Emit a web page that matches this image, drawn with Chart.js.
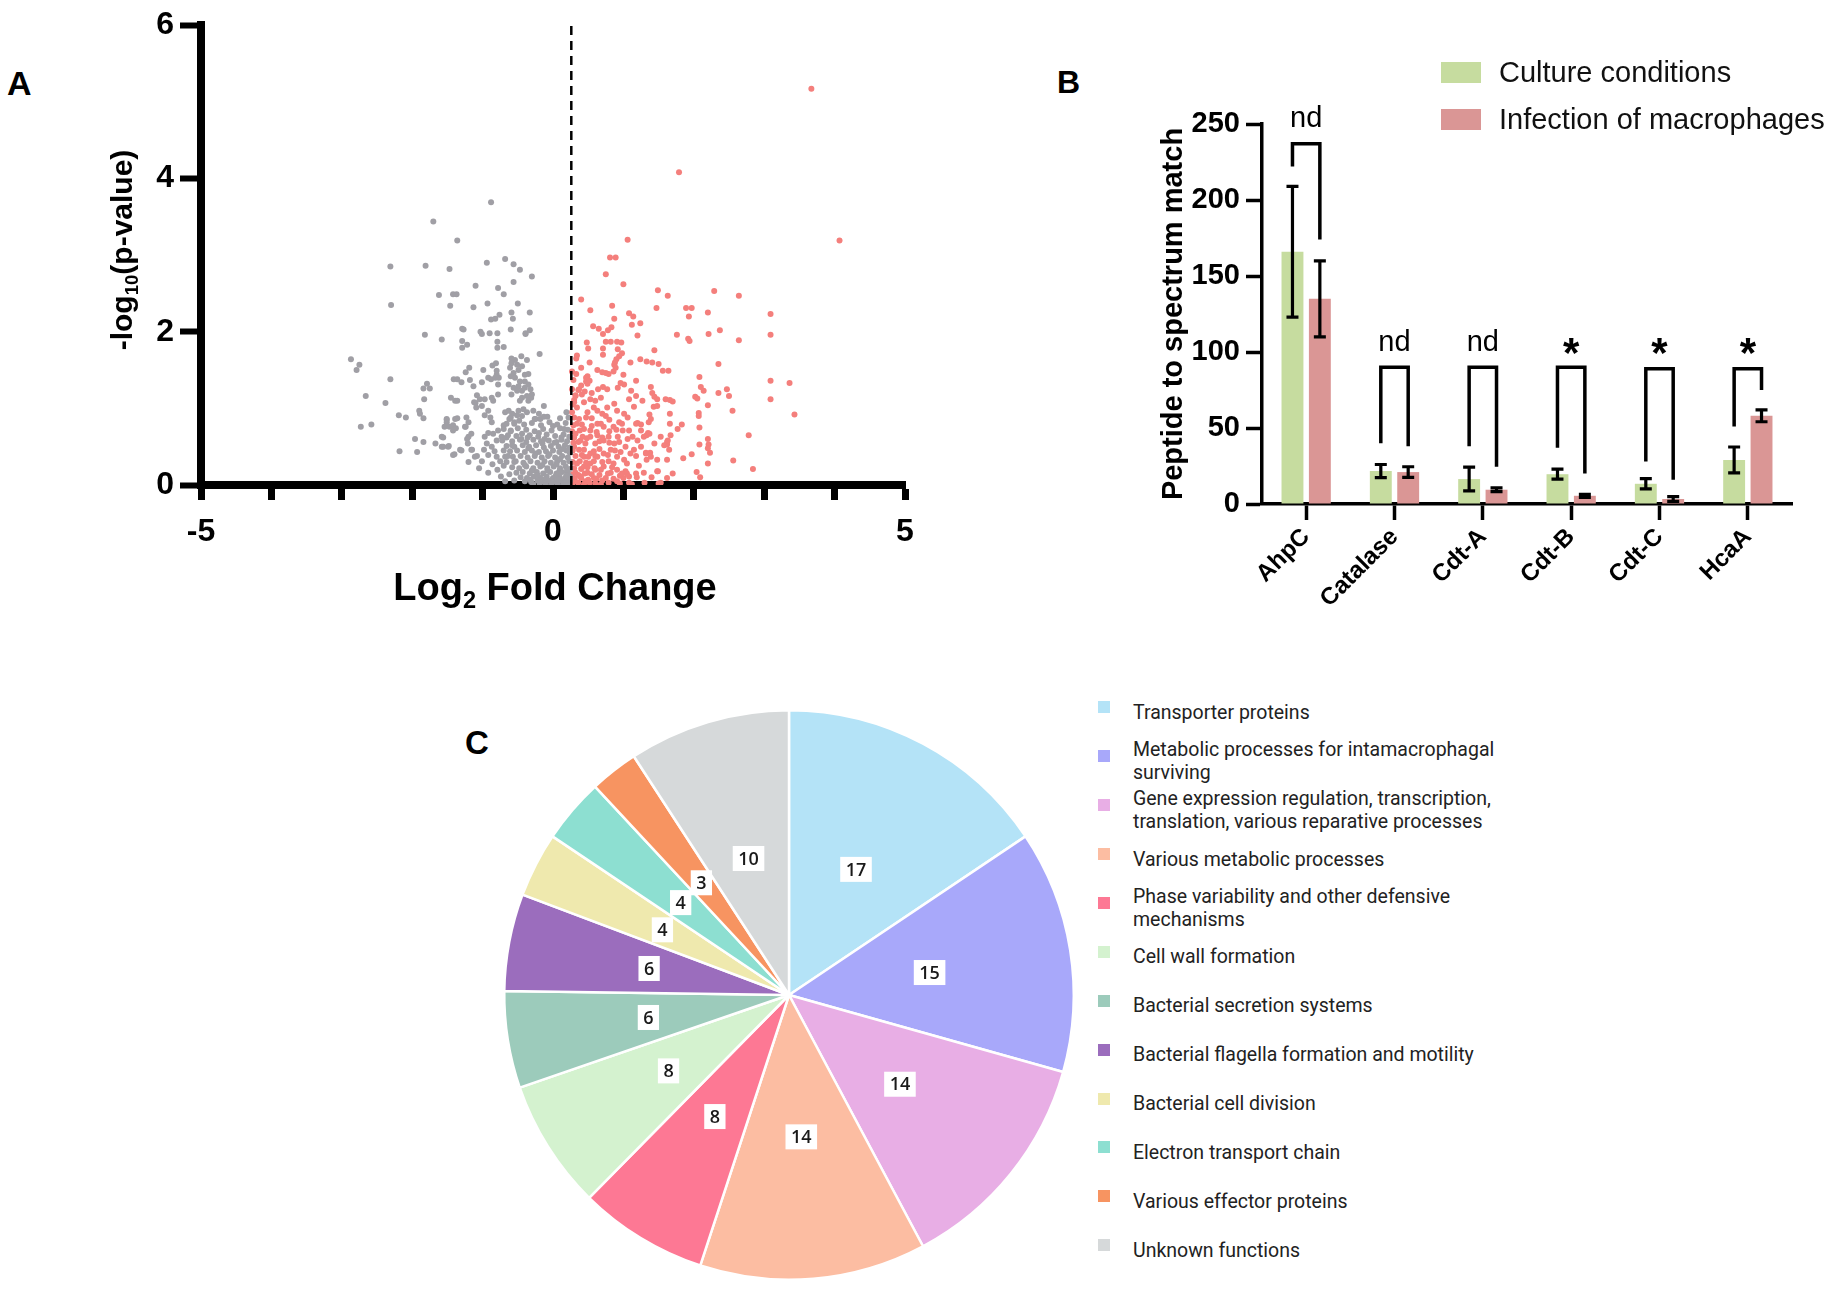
<!DOCTYPE html>
<html lang="en">
<head>
<meta charset="UTF-8">
<title>Proteome of macrophage infection</title>
<script src="https://cdn.jsdelivr.net/npm/chart.js@4.4.1/dist/chart.umd.min.js"></script>
<style>
  body { margin: 0; background: #fff; width: 1831px; height: 1289px; position: relative; overflow: hidden;
         font-family: "Liberation Sans", Arial, sans-serif; }
  canvas { position: absolute; }
  .letter { position: absolute; font-weight: bold; line-height: 1; color: #000; }
  .legB { position: absolute; font-size: 29px; line-height: 29px; color: #111; white-space: nowrap; }
  .legB-box { position: absolute; width: 40px; height: 21px; }
  #pieLegend { position: absolute; left: 1098px; top: 688px; width: 620px; }
  #pieLegend .row { height: 48.9px; display: flex; align-items: center; }
  #pieLegend .sw { width: 12px; height: 12px; margin-right: 23px; flex: none; position: relative; top: -5px; }
  #pieLegend .txt { font-family: Roboto, sans-serif; font-size: 19.5px; line-height: 23px; color: #222; }
</style>
</head>
<body>
  <div class="letter" style="left:7px;top:66px;font-size:34px;">A</div>
  <div class="letter" style="left:1057px;top:66px;font-size:32px;">B</div>
  <div class="letter" style="left:465px;top:726px;font-size:33px;">C</div>

  <canvas id="volcano" width="960" height="640" style="left:0;top:0;"></canvas>
  <canvas id="psmChart" width="711" height="640" style="left:1120px;top:0;"></canvas>
  <canvas id="pieChart" width="600" height="600" style="left:489px;top:695px;"></canvas>

  <div class="legB-box" style="left:1441px;top:62px;background:#c6dc9f;"></div>
  <div class="legB" style="left:1499px;top:58px;">Culture conditions</div>
  <div class="legB-box" style="left:1441px;top:109px;background:#da9695;"></div>
  <div class="legB" style="left:1499px;top:105px;">Infection of macrophages</div>

  <div id="pieLegend"></div>

<script>
// ---------- A: volcano plot (log2 fold change, -log10 p) ----------
const foldCutoff = 0.26;

const otherProteins = [
  [-0.88,3.69],[-1.70,3.44],[-1.36,3.19],[-2.31,2.85],[-1.81,2.86],[-1.47,2.82],[-0.94,2.90],[-0.68,2.95],
  [-0.56,2.88],[-0.47,2.81],[-0.30,2.72],[-0.56,2.65],[-1.10,2.60],[-0.78,2.57],[-0.70,2.49],[-1.62,2.48],
  [-1.42,2.49],[-1.37,2.49],[-2.30,2.35],[-1.46,2.34],[-1.13,2.32],[-0.93,2.37],[-0.50,2.37],[-0.59,2.25],
  [-0.33,2.25],[-0.76,2.22],[-0.82,2.17],[-0.88,2.16],[-0.57,2.17],[-1.82,1.96],[-1.58,1.90],[-1.29,2.04],
  [-1.27,2.03],[-1.29,1.88],[-1.22,1.83],[-1.29,1.79],[-1.03,2.00],[-1.01,1.97],[-0.90,1.98],[-0.79,1.98],
  [-0.79,1.87],[-0.79,1.79],[-0.70,1.80],[-0.60,2.03],[-0.39,1.98],[-0.33,2.02],[-0.19,1.71],[-2.87,1.64],
  [-2.75,1.57],[-2.79,1.50],[-2.31,1.38],[-2.66,1.16],[-2.38,1.07],[-2.73,0.76],[-2.58,0.79],[-2.19,0.91],
  [-2.09,0.88],[-2.18,0.44],[-1.93,0.43],[-1.96,0.60],[-1.84,0.56],[-1.90,0.97],[-1.89,0.93],[-1.84,0.87],
  [-1.83,1.12],[-1.84,1.26],[-1.79,1.32],[-1.75,1.26],[-1.67,0.54],[-1.56,0.50],[-1.48,0.51],[-1.56,0.62],
  [-1.51,0.85],[-1.51,0.78],[-1.45,1.14],[-1.41,1.38],[-1.36,1.38],[-1.30,1.34],[-1.36,1.10],[-1.42,0.78],
  [-1.38,0.74],[-1.36,0.87],[-1.40,0.40],[-1.30,0.45],[-1.24,1.47],[-1.19,1.53],[-1.18,1.37],[-1.13,1.29],
  [-1.24,0.76],[-1.22,0.60],[-1.20,0.30],[-1.15,0.46],[-1.08,0.38],[-1.10,1.07],[-1.08,1.17],[-1.01,1.34],
  [-0.99,1.50],[-0.88,1.38],[-0.86,1.56],[-0.81,1.59],[-0.80,1.49],[-0.77,1.40],[-0.39,1.97],
  [-0.45,1.68],[-0.37,1.63],[-0.54,1.63],[-0.59,1.65],[-0.59,1.59],[-0.51,1.57],[-0.44,1.55],[-0.49,1.50],
  [-0.61,1.53],[-0.56,1.46],[-0.40,1.44],[-0.35,1.45],[-0.60,1.42],[-0.54,1.40],[-0.47,1.35],[-0.40,1.35],
  [-0.35,1.31],[-0.80,1.44],[-0.82,1.40],[-0.78,1.31],[-0.92,1.40],[-0.63,1.31],[-0.56,1.27],[-0.49,1.29],
  [-0.51,1.23],[-0.44,1.23],[-0.40,1.27],[-0.32,1.25],[-0.30,1.18],[-0.37,1.16],[-0.44,1.14],[-0.59,1.18],
  [-0.47,1.10],[-0.35,1.10],[-0.31,1.14],[-1.39,1.10],[-1.12,1.08],[-1.04,1.12],[-0.97,1.12],[-0.87,1.14],
  [-0.85,1.10],[-0.78,1.18],[-1.01,1.03],[-1.09,1.01],[-0.92,0.97],[-0.97,0.91],[-0.89,0.88],[-0.87,0.82],
  [-0.68,0.95],[-0.63,0.97],[-0.58,0.93],[-0.51,0.91],[-0.49,0.97],[-0.42,0.99],[-0.37,0.95],[-0.28,0.97],
  [-0.20,0.93],[-0.13,1.03],[-0.18,0.86],[-0.13,0.89],[-0.25,0.86],[-1.51,0.86],[-1.51,0.82],[-1.54,0.76],
  [-1.39,0.86],[-1.23,0.88],[-1.20,0.82],[-1.25,0.76],[-1.47,0.76],[-1.42,0.71],[-1.58,0.63],[-1.58,0.50],
  [-1.49,0.50],[-1.42,0.39],[-1.32,0.46],[-1.20,0.63],[-1.16,0.67],[-1.21,0.54],[-1.16,0.46],[-1.11,0.37],
  [-1.01,0.31],[-0.92,0.39],[-0.97,0.63],[-0.94,0.54],[-0.87,0.50],[-0.85,0.67],[-0.78,0.71],[-0.73,0.63],
  [-0.80,0.37],[-0.75,0.31],[-0.68,0.37],[-0.79,0.20],[-0.74,0.11],[-0.92,0.16],
  [-0.62,0.86],[-0.55,0.80],[-0.48,0.84],[-0.70,0.78],[-0.60,0.70],[-0.66,0.62],[-0.58,0.52],[-0.70,0.45],
  [-0.64,0.38],[-0.55,0.30],[-0.70,0.25],[-0.62,0.14],[-0.55,0.06],[-0.83,0.44],[-0.86,0.27],[-0.80,0.58],
  [-0.92,0.68],[-0.98,0.46],[-1.05,0.22],[-0.68,0.05],
  [-0.60,0.88],[-0.44,0.90],[-0.26,0.86],[-0.08,0.89],[0.10,0.87],[0.19,0.95],
  [-0.66,0.80],[-0.55,0.82],[-0.41,0.79],[-0.30,0.81],[-0.17,0.78],[-0.05,0.82],[0.06,0.79],[0.18,0.81],
  [-0.70,0.73],[-0.60,0.71],[-0.50,0.74],[-0.38,0.72],[-0.26,0.70],[-0.14,0.73],[-0.02,0.71],[0.10,0.74],[0.21,0.72],
  [-0.64,0.65],[-0.52,0.64],[-0.44,0.67],[-0.33,0.65],[-0.21,0.63],[-0.09,0.66],[0.03,0.64],[0.15,0.66],[0.23,0.63],
  [-0.72,0.58],[-0.58,0.57],[-0.47,0.59],[-0.38,0.56],[-0.28,0.59],[-0.17,0.57],[-0.06,0.58],[0.05,0.56],[0.12,0.59],[0.20,0.57],
  [-0.66,0.51],[-0.55,0.50],[-0.43,0.52],[-0.34,0.50],[-0.24,0.52],[-0.13,0.49],[-0.03,0.51],[0.08,0.50],[0.17,0.52],[0.24,0.49],
  [-0.61,0.44],[-0.51,0.45],[-0.40,0.43],[-0.30,0.45],[-0.20,0.43],[-0.10,0.44],[0.00,0.45],[0.09,0.43],[0.19,0.45],[0.24,0.42],
  [-0.57,0.37],[-0.46,0.38],[-0.36,0.36],[-0.26,0.38],[-0.16,0.36],[-0.07,0.38],[0.03,0.36],[0.13,0.38],[0.21,0.36],
  [-0.66,0.30],[-0.53,0.31],[-0.42,0.29],[-0.32,0.31],[-0.22,0.29],[-0.12,0.31],[-0.03,0.29],[0.06,0.31],[0.15,0.29],[0.23,0.31],
  [-0.58,0.23],[-0.48,0.22],[-0.38,0.24],[-0.28,0.22],[-0.18,0.24],[-0.08,0.22],[0.01,0.24],[0.10,0.22],[0.18,0.24],[0.24,0.21],
  [-0.52,0.16],[-0.43,0.17],[-0.33,0.15],[-0.23,0.17],[-0.14,0.15],[-0.04,0.17],[0.05,0.15],[0.13,0.17],[0.21,0.15],
  [-0.46,0.10],[-0.37,0.09],[-0.27,0.11],[-0.18,0.09],[-0.09,0.11],[0.00,0.09],[0.09,0.11],[0.17,0.09],[0.24,0.11],
  [-0.40,0.05],[-0.31,0.04],[-0.22,0.06],[-0.13,0.04],[-0.05,0.06],[0.04,0.04],[0.12,0.06],[0.20,0.04],
  [-0.28,0.01],[-0.19,0.02],[-0.10,0.01],[-0.02,0.02],[0.07,0.01],[0.15,0.02],[0.22,0.01],
  [-0.35,0.48],[-0.15,0.54],[0.02,0.55],[0.14,0.47],[-0.25,0.41],[-0.05,0.40],[0.10,0.34],[-0.40,0.26],
  [-0.15,0.26],[0.05,0.27],[0.20,0.20],[-0.30,0.19],[-0.08,0.19],[0.09,0.18],[-0.22,0.13],[0.04,0.12],
  [0.19,0.12],[-0.32,0.07],[-0.12,0.07],[0.08,0.07],[0.24,0.06],[-0.45,0.60],[-0.20,0.68],[0.00,0.77],
  [0.16,0.73],[0.22,0.88],[-0.36,0.62],[-0.12,0.60],[0.12,0.62]
];

const upProteins = [
  [3.67,5.17],[1.79,4.08],[4.07,3.19],[1.06,3.20],[0.81,2.97],[0.89,2.97],[0.75,2.75],[1.00,2.62],
  [1.49,2.54],[1.63,2.47],[2.29,2.53],[2.64,2.47],[0.40,2.42],[0.53,2.28],[0.84,2.34],[1.47,2.31],
  [1.89,2.31],[1.97,2.31],[1.93,2.20],[2.20,2.25],[3.09,2.23],[1.08,2.24],[1.14,2.20],[0.87,2.17],
  [1.24,2.11],[1.12,2.09],[0.57,2.07],[0.65,2.04],[0.71,1.97],[0.78,2.02],[0.83,2.06],[1.20,1.95],
  [1.76,1.96],[2.21,1.97],[2.37,2.02],[3.09,1.96],[1.92,1.91],[1.94,1.88],[2.64,1.89],[0.48,1.86],
  [0.75,1.87],[0.82,1.87],[0.91,1.87],[0.97,1.86],[0.50,1.78],[0.71,1.78],[0.92,1.77],[1.44,1.76],
  [0.98,1.72],[0.94,1.68],[0.90,1.64],[0.88,1.60],[0.34,1.69],[1.24,1.64],[1.33,1.61],[1.41,1.60],
  [1.50,1.58],[1.56,1.49],[1.64,1.49],[0.52,1.60],[0.40,1.53],[2.35,1.58],[0.71,1.70],[2.08,1.41],
  [3.09,1.36],[3.36,1.33],[1.18,1.36],[0.47,1.40],[0.47,1.35],[2.10,1.28],[2.14,1.23],[0.36,1.24],
  [1.39,1.28],[1.41,1.20],[2.35,1.20],[2.47,1.25],[2.50,1.16],[2.02,1.15],[2.05,1.13],[3.09,1.12],
  [0.32,1.17],[0.30,1.11],[1.27,1.10],[1.48,1.12],[1.60,1.12],[1.66,1.11],[1.70,1.09],[2.20,1.04],
  [1.43,1.02],[2.55,0.97],[3.43,0.92],[1.37,0.92],[1.66,0.93],[2.07,0.94],[2.07,0.90],[1.20,0.81],
  [1.25,0.79],[1.39,0.86],[1.36,0.82],[1.66,0.80],[1.77,0.73],[1.83,0.79],[2.08,0.75],[2.78,0.65],
  [1.35,0.68],[1.33,0.65],[1.67,0.65],[1.62,0.56],[1.62,0.53],[2.20,0.60],[2.21,0.53],[2.08,0.53],
  [2.20,0.48],[2.23,0.42],[2.20,0.28],[1.97,0.40],[2.56,0.32],[2.84,0.21],[1.62,0.33],[1.32,0.42],
  [1.33,0.33],[1.38,0.42],[2.04,0.17],[2.09,0.10],[1.49,0.18],[1.50,0.02],[1.62,0.09],[1.18,0.15],
  [1.19,0.10],[1.05,0.15],[1.08,0.03],
  [0.33,1.65],[1.10,1.60],[0.87,1.57],[0.89,1.53],[0.86,1.48],[0.63,1.50],[0.70,1.47],[0.75,1.46],
  [0.79,1.45],[0.49,1.42],[0.52,1.36],[0.49,1.32],[1.00,1.44],[0.96,1.33],[1.01,1.31],[0.92,1.27],
  [0.71,1.28],[0.77,1.25],[0.64,1.25],[0.37,1.25],[0.41,1.18],[1.44,1.15],[1.48,1.03],[1.11,1.23],
  [1.18,1.16],[1.08,1.12],[1.15,1.02],
  [0.32,1.16],[0.30,1.08],[0.34,1.01],[0.44,1.08],[0.53,1.12],[0.60,1.10],[0.68,1.14],[0.58,1.01],
  [0.49,0.95],[0.63,0.97],[0.70,0.93],[0.77,1.01],[0.87,1.06],[0.91,0.97],[1.01,0.93],[1.06,0.88],
  [0.94,0.82],[0.86,0.76],[0.72,0.76],[0.63,0.80],[0.53,0.71],[0.44,0.73],[0.34,0.80],[0.30,0.88],
  [0.32,0.67],[0.39,0.58],[0.46,0.54],[0.53,0.63],[0.63,0.65],[0.72,0.58],[0.79,0.63],[0.87,0.54],
  [0.99,0.71],[1.08,0.71],[1.18,0.80],[1.25,0.71],[1.13,0.63],[1.20,0.58],[1.29,0.63],[1.37,0.67],
  [1.44,0.54],[1.53,0.63],[1.25,0.50],[1.15,0.46],[1.03,0.50],[0.96,0.43],[0.82,0.46],[0.72,0.41],
  [0.63,0.37],[0.53,0.41],[0.44,0.37],[0.37,0.46],[0.30,0.50],[0.34,0.28],[0.44,0.24],[0.53,0.28],
  [0.60,0.20],[0.72,0.24],[0.79,0.31],[0.91,0.37],[1.01,0.33],[1.10,0.41],[1.32,0.41],[1.39,0.37],
  [1.48,0.33],[1.58,0.52],[1.63,0.58],[1.65,0.46],[0.49,0.16],[0.39,0.11],[0.32,0.16],[0.58,0.09],
  [0.75,0.09],[0.82,0.16],[0.91,0.20],[1.03,0.18],[1.08,0.11],[1.29,0.16],[1.48,0.18],[1.53,0.03],
  [0.91,0.05],[0.30,0.05],[0.46,0.05],
  [0.28,0.02],[0.36,0.03],[0.44,0.01],[0.52,0.03],[0.60,0.02],[0.68,0.01],[0.79,0.03],[0.95,0.02],
  [1.12,0.01],[1.30,0.03],[0.31,0.08],[0.40,0.09],[0.50,0.07],[0.62,0.08],[0.70,0.06],[0.86,0.08],
  [1.00,0.09],[0.28,0.14],[0.36,0.13],[0.45,0.15],[0.55,0.14],[0.66,0.13],[0.78,0.15],[0.95,0.12],
  [0.30,0.22],[0.40,0.21],[0.49,0.23],[0.59,0.22],[0.68,0.20],[0.84,0.23],[0.28,0.30],[0.38,0.31],
  [0.47,0.29],[0.58,0.31],[0.70,0.30],[0.86,0.28],[0.32,0.38],[0.41,0.39],[0.50,0.37],[0.60,0.38],
  [0.78,0.39],[0.28,0.45],[0.44,0.46],[0.58,0.44],[0.66,0.47],[0.88,0.45],[0.29,0.55],[0.36,0.56],
  [0.60,0.54],[0.66,0.57],[0.80,0.55],[0.94,0.56],[0.30,0.62],[0.42,0.63],[0.48,0.61],[0.70,0.62],
  [0.92,0.63],[0.27,0.70],[0.38,0.71],[0.62,0.69],[0.80,0.70],[0.90,0.72],[0.29,0.78],[0.41,0.79],
  [0.55,0.77],[0.68,0.80],[0.37,0.86],[0.55,0.87],[0.80,0.85],
  [0.27,0.95],[0.28,1.05],[0.27,1.25],[0.29,1.37],[0.27,1.48],[0.33,1.45],[0.40,1.30],[0.45,1.22],
  [0.55,1.20],[0.47,0.88],[0.75,0.90],[0.98,0.80],[1.06,0.60],[1.18,0.38],[1.05,0.28],[0.98,0.15],
  [1.22,0.25],[1.40,0.10],[1.70,0.15],[1.85,0.35]
];

// ---------- B: peptide to spectrum match ----------
const proteins = ['AhpC', 'Catalase', 'Cdt-A', 'Cdt-B', 'Cdt-C', 'HcaA'];
const cultureMean = [166, 21.7, 16.4, 19.6, 13.3, 29];
const cultureSd = [43, 4.3, 7.8, 3.3, 3.4, 8.5];
const infectionMean = [135, 21, 9.4, 5.4, 3.3, 58];
const infectionSd = [25, 3.5, 1.2, 1.0, 1.6, 3.9];
const bracketTop = [237, 90, 90, 90, 89, 89];
const bracketLeftEnd = [222, 40, 38, 37, 28, 51];
const bracketRightEnd = [174, 38, 24.5, 20, 16, 75];
const sigText = ['nd', 'nd', 'nd', '*', '*', '*'];
const sigLevel = [253, 106, 106, 103, 103, 103];

// ---------- C: functional groups ----------
const functionGroups = [
  ['Transporter proteins'],
  ['Metabolic processes for intamacrophagal', 'surviving'],
  ['Gene expression regulation, transcription,', 'translation, various reparative processes'],
  ['Various metabolic processes'],
  ['Phase variability and other defensive', 'mechanisms'],
  ['Cell wall formation'],
  ['Bacterial secretion systems'],
  ['Bacterial flagella formation and motility'],
  ['Bacterial cell division'],
  ['Electron transport chain'],
  ['Various effector proteins'],
  ['Unknown functions']
];
const groupCounts = [17, 15, 14, 14, 8, 8, 6, 6, 4, 4, 3, 10];
const groupColors = ['#b4e3f7', '#a8a8fa', '#e8aee5', '#fcbda2', '#fd7894', '#d4f2cf',
                     '#9ccbbb', '#9b6dbd', '#efe9ae', '#8ddfd1', '#f79461', '#d6d9da'];

Chart.defaults.font.family = '"Liberation Sans", Arial, sans-serif';
Chart.defaults.color = '#000';

function drawSubText(ctx, parts, x, y, size) {
  let total = 0;
  parts.forEach(([t, sub]) => {
    ctx.font = 'bold ' + (sub ? size * 0.62 : size) + 'px "Liberation Sans", Arial';
    total += ctx.measureText(t).width;
  });
  let cx = x - total / 2;
  parts.forEach(([t, sub]) => {
    ctx.font = 'bold ' + (sub ? size * 0.62 : size) + 'px "Liberation Sans", Arial';
    ctx.fillText(t, cx, y + (sub ? size * 0.3 : 0));
    cx += ctx.measureText(t).width;
  });
}

const volcanoDecor = {
  id: 'volcanoDecor',
  afterDatasetsDraw(chart) {
    const { ctx, scales: { x, y } } = chart;
    const px = x.getPixelForValue(foldCutoff);
    ctx.save();
    ctx.strokeStyle = '#000';
    ctx.lineWidth = 2.5;
    ctx.setLineDash([9, 6]);
    ctx.beginPath();
    ctx.moveTo(px, y.getPixelForValue(0));
    ctx.lineTo(px, y.getPixelForValue(6));
    ctx.stroke();
    ctx.restore();
  },
  afterDraw(chart) {
    const ctx = chart.ctx;
    ctx.save();
    ctx.fillStyle = '#000';
    ctx.textAlign = 'left';
    ctx.textBaseline = 'middle';
    drawSubText(ctx, [['Log', false], ['2', true], [' Fold Change', false]], 555, 590, 38);
    ctx.translate(124, 250);
    ctx.rotate(-Math.PI / 2);
    drawSubText(ctx, [['-log', false], ['10', true], ['(p-value)', false]], 0, 0, 30);
    ctx.restore();
  }
};

new Chart(document.getElementById('volcano'), {
  type: 'scatter',
  data: {
    datasets: [
      { data: otherProteins.map(p => ({ x: p[0], y: p[1] })), backgroundColor: '#a09fa5', pointRadius: 3, pointBorderWidth: 0 },
      { data: upProteins.map(p => ({ x: p[0], y: p[1] })), backgroundColor: '#f47f7c', pointRadius: 3, pointBorderWidth: 0 }
    ]
  },
  options: {
    responsive: false,
    animation: false,
    events: [],
    layout: { padding: { top: 19, right: 55, left: 0, bottom: 0 } },
    plugins: { legend: { display: false }, tooltip: { enabled: false } },
    scales: {
      x: {
        type: 'linear', min: -5, max: 5,
        afterFit: s => { s.height = 155; },
        border: { display: true, width: 8, color: '#000' },
        grid: { drawOnChartArea: false, drawTicks: true, tickLength: 15, tickWidth: 7, tickColor: '#000' },
        ticks: { stepSize: 1, autoSkip: false, maxRotation: 0, padding: 13, color: '#000',
                 font: { size: 32, weight: 'bold' },
                 callback: v => (v % 5 === 0 ? v : '') }
      },
      y: {
        min: 0, max: 6,
        afterFit: s => { s.width = 201; },
        border: { display: true, width: 8, color: '#000' },
        grid: { drawOnChartArea: false, drawTicks: true, tickLength: 21, tickWidth: 6, tickColor: '#000' },
        ticks: { stepSize: 2, padding: 6, color: '#000', font: { size: 32, weight: 'bold' } }
      }
    }
  },
  plugins: [volcanoDecor]
});

// error bars, brackets and significance marks for panel B
const psmDecor = {
  id: 'psmDecor',
  afterDatasetsDraw(chart) {
    const { ctx, scales: { y } } = chart;
    const green = chart.getDatasetMeta(0).data;
    const red = chart.getDatasetMeta(1).data;
    ctx.save();
    ctx.strokeStyle = '#000';
    ctx.lineWidth = 3.2;
    [[green, cultureMean, cultureSd], [red, infectionMean, infectionSd]].forEach(([bars, mean, sd]) => {
      bars.forEach((bar, i) => {
        const hi = y.getPixelForValue(mean[i] + sd[i]);
        const lo = y.getPixelForValue(Math.max(mean[i] - sd[i], 0));
        ctx.beginPath();
        ctx.moveTo(bar.x, hi); ctx.lineTo(bar.x, lo);
        ctx.moveTo(bar.x - 6, hi); ctx.lineTo(bar.x + 6, hi);
        ctx.moveTo(bar.x - 6, lo); ctx.lineTo(bar.x + 6, lo);
        ctx.stroke();
      });
    });
    ctx.lineWidth = 3.5;
    proteins.forEach((p, i) => {
      const top = y.getPixelForValue(bracketTop[i]);
      ctx.beginPath();
      ctx.moveTo(green[i].x, y.getPixelForValue(bracketLeftEnd[i]));
      ctx.lineTo(green[i].x, top);
      ctx.lineTo(red[i].x, top);
      ctx.lineTo(red[i].x, y.getPixelForValue(bracketRightEnd[i]));
      ctx.stroke();
      const mid = (green[i].x + red[i].x) / 2;
      ctx.fillStyle = '#000';
      ctx.textAlign = 'center';
      ctx.textBaseline = 'middle';
      if (sigText[i] === '*') {
        ctx.font = 'bold 42px "Liberation Sans", Arial';
        ctx.fillText('*', mid, y.getPixelForValue(sigLevel[i]) + 8);
      } else {
        ctx.font = '29px "Liberation Sans", Arial';
        ctx.fillText('nd', mid, y.getPixelForValue(sigLevel[i]));
      }
    });
    ctx.restore();
  }
};

new Chart(document.getElementById('psmChart'), {
  type: 'bar',
  data: {
    labels: proteins,
    datasets: [
      { label: 'Culture conditions', data: cultureMean, backgroundColor: '#c6dc9f' },
      { label: 'Infection of macrophages', data: infectionMean, backgroundColor: '#da9695' }
    ]
  },
  options: {
    responsive: false,
    animation: false,
    events: [],
    categoryPercentage: 0.62,
    barPercentage: 0.8,
    layout: { padding: { top: 124, right: 39, left: 33, bottom: 0 } },
    plugins: { legend: { display: false }, tooltip: { enabled: false } },
    scales: {
      x: {
        afterFit: s => { s.height = 136; },
        border: { display: true, width: 3.5, color: '#000' },
        grid: { offset: false, drawOnChartArea: false, drawTicks: true, tickLength: 16, tickWidth: 3.5, tickColor: '#000' },
        ticks: { minRotation: 45, maxRotation: 45, padding: 3, color: '#000', font: { size: 24, weight: 'bold' } }
      },
      y: {
        min: 0, max: 250,
        afterFit: s => { s.width = 109; },
        border: { display: true, width: 3.5, color: '#000' },
        grid: { drawOnChartArea: false, drawTicks: true, tickLength: 16, tickWidth: 3.5, tickColor: '#000' },
        ticks: { stepSize: 50, padding: 6, color: '#000', font: { size: 29, weight: 'bold' } },
        title: { display: true, text: 'Peptide to spectrum match', color: '#000', font: { size: 29, weight: 'bold' } }
      }
    }
  },
  plugins: [psmDecor]
});

// number boxes on the pie slices
const pieNumbers = {
  id: 'pieNumbers',
  afterDatasetsDraw(chart) {
    const ctx = chart.ctx;
    ctx.save();
    ctx.font = '600 18px "Open Sans", sans-serif';
    ctx.textAlign = 'center';
    ctx.textBaseline = 'middle';
    chart.getDatasetMeta(0).data.forEach((arc, i) => {
      const pos = arc.tooltipPosition();
      const txt = String(groupCounts[i]);
      const w = ctx.measureText(txt).width + 11;
      ctx.fillStyle = '#fff';
      ctx.fillRect(pos.x - w / 2, pos.y - 12.5, w, 25);
      ctx.fillStyle = '#1a1a1a';
      ctx.fillText(txt, pos.x, pos.y + 1);
    });
    ctx.restore();
  }
};

new Chart(document.getElementById('pieChart'), {
  type: 'pie',
  data: {
    labels: functionGroups,
    datasets: [{ data: groupCounts, backgroundColor: groupColors, borderColor: '#fff', borderWidth: 2.5 }]
  },
  options: {
    responsive: false,
    animation: false,
    events: [],
    layout: { padding: 14 },
    plugins: { legend: { display: false }, tooltip: { enabled: false } }
  },
  plugins: [pieNumbers]
});

const legendBox = document.getElementById('pieLegend');
functionGroups.forEach((lines, i) => {
  const row = document.createElement('div');
  row.className = 'row';
  const sw = document.createElement('div');
  sw.className = 'sw';
  sw.style.background = groupColors[i];
  const txt = document.createElement('div');
  txt.className = 'txt';
  txt.innerHTML = lines.join('<br>');
  row.appendChild(sw);
  row.appendChild(txt);
  legendBox.appendChild(row);
});
</script>
</body>
</html>
